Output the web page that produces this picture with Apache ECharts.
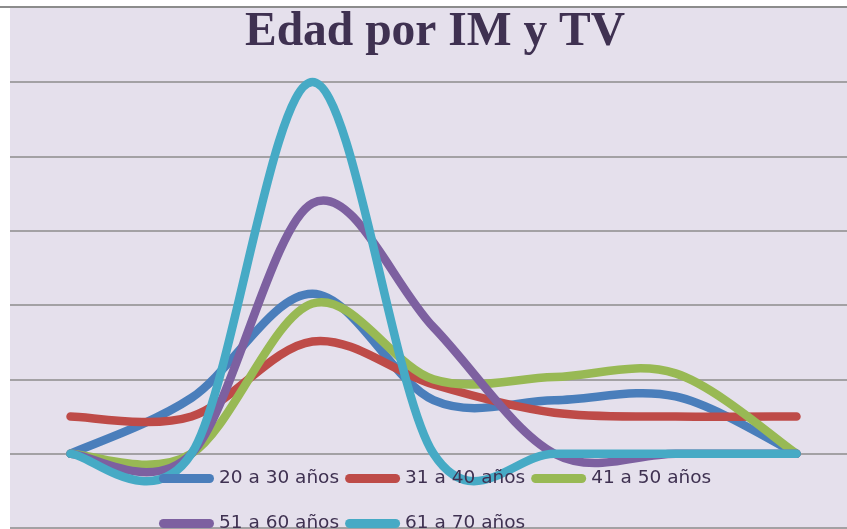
<!DOCTYPE html>
<html>
<head>
<meta charset="utf-8">
<script src="https://cdn.jsdelivr.net/npm/echarts@6/dist/echarts.min.js"></script>
<style>
html,body{margin:0;padding:0;background:#ffffff;}
#chart{width:847px;height:529px;}
</style>
</head>
<body>
<div id="chart"></div>
<script>
// ---- data ----
const categories = ['1', '2', '3', '4', '5', '6', '7'];
const seriesNames = ['20 a 30 años', '31 a 40 años', '41 a 50 años', '51 a 60 años', '61 a 70 años'];
const s20a30 = [0, 7.5, 21.5, 7.2, 7.2, 7.7, 0];
const s31a40 = [5, 5, 15.1, 9.3, 5.5, 5, 5];
const s41a50 = [0, 0, 20.2, 10, 10.3, 10.8, 0];
const s51a60 = [0, 0, 33.7, 17, 0, 0, 0];
const s61a70 = [0, 0, 50, 0, 0, 0, 0];
const yMin = -10, yMax = 50, yStep = 10;
const titleText = 'Edad por IM y TV';

const colors = ['#4A7EBB', '#BE4B48', '#98B954', '#7D60A0', '#46AAC5'];
const allData = [s20a30, s31a40, s41a50, s51a60, s61a70];

const chart = echarts.init(document.getElementById('chart'), null, {renderer: 'canvas'});
const capsule = 'path://M4.5,0 L50.5,0 A4.5,4.5 0 0 1 50.5,9 L4.5,9 A4.5,4.5 0 0 1 4.5,0 Z';

// Excel-style smoothed line (Catmull-Rom -> cubic Bezier), points from the axes
function smoothPath(pts) {
  let d = 'M' + pts[0][0] + ',' + pts[0][1];
  const n = pts.length;
  for (let i = 0; i < n - 1; i++) {
    const p0 = pts[Math.max(i - 1, 0)], p1 = pts[i], p2 = pts[i + 1], p3 = pts[Math.min(i + 2, n - 1)];
    const k = 1 / 6;
    const c1x = p1[0] + (p2[0] - p0[0]) * k, c1y = p1[1] + (p2[1] - p0[1]) * k;
    const c2x = p2[0] - (p3[0] - p1[0]) * k, c2y = p2[1] - (p3[1] - p1[1]) * k;
    d += ' C' + c1x + ',' + c1y + ' ' + c2x + ',' + c2y + ' ' + p2[0] + ',' + p2[1];
  }
  return d;
}

const nCat = categories.length;
const gridLeft = 10, gridWidth = 837, bandPx = 121;
const xMin = -0.5, xMax = -0.5 + gridWidth / bandPx;

chart.setOption({
  animation: false,
  backgroundColor: '#ffffff',
  graphic: [
    {type: 'rect', z: -10, shape: {x: 10, y: 8, width: 837, height: 521}, style: {fill: '#E5E0EC'}},
    {type: 'rect', z: -9, shape: {x: 0, y: 6, width: 847, height: 2}, style: {fill: '#8C8C8C'}}
  ],
  title: {
    text: titleText,
    left: 240,
    top: 4,
    textStyle: {fontFamily: 'Liberation Serif', fontWeight: 'bold', fontSize: 47.5, color: '#3F3151'}
  },
  legend: {
    data: seriesNames,
    left: 154,
    top: 454,
    width: 600,
    itemWidth: 55,
    itemHeight: 9,
    itemGap: 6,
    icon: capsule,
    textStyle: {fontFamily: 'DejaVu Sans', fontSize: 18.5, color: '#3F3151', lineHeight: 39}
  },
  grid: {left: gridLeft, top: 82, width: gridWidth, height: 446, containLabel: false},
  xAxis: {
    type: 'value',
    min: xMin,
    max: xMax,
    axisLine: {show: false},
    axisTick: {show: false},
    axisLabel: {show: false},
    splitLine: {show: false}
  },
  yAxis: {
    type: 'value',
    min: yMin,
    max: yMax,
    interval: yStep,
    axisLine: {show: false},
    axisTick: {show: false},
    axisLabel: {show: false},
    splitLine: {show: true, lineStyle: {color: '#8C8C8C', width: 1.5}}
  },
  series: seriesNames.map((name, si) => ({
    name: name,
    type: 'custom',
    clip: false,
    itemStyle: {color: colors[si]},
    data: allData[si].map((v, i) => [i, v]),
    renderItem: function (params, api) {
      if (params.dataIndex !== 0) return null;
      const pts = allData[si].map((v, i) => api.coord([i, v]));
      return {
        type: 'path',
        shape: {pathData: smoothPath(pts)},
        style: {fill: 'none', stroke: colors[si], lineWidth: 8.5, lineCap: 'round', lineJoin: 'round'}
      };
    }
  }))
});
</script>
</body>
</html>
